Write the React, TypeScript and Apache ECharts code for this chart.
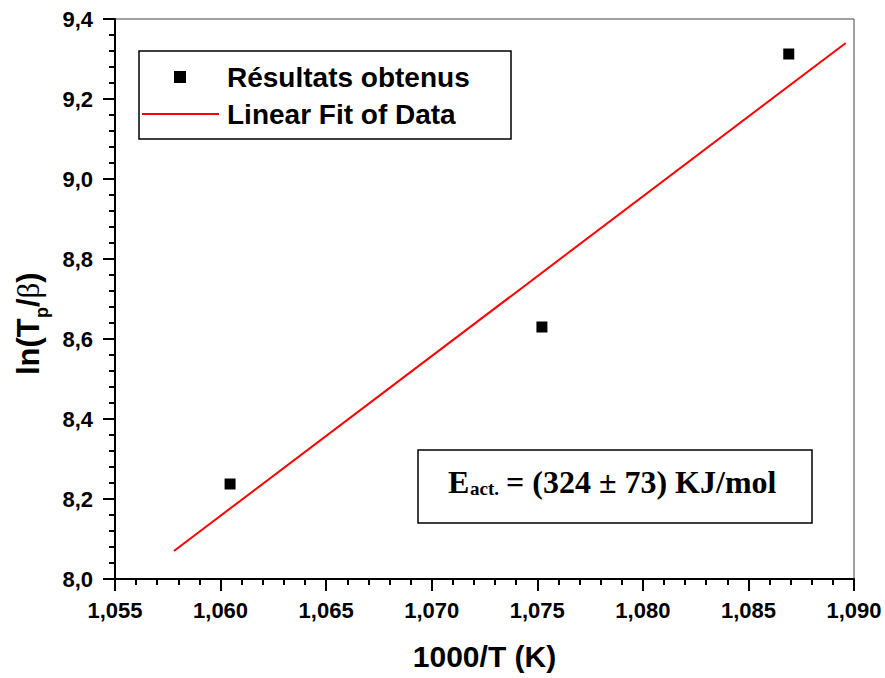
import React, { useEffect, useRef } from "react";
import * as echarts from "echarts";

const pointX = [1.06045, 1.07522, 1.08691];
const pointY = [8.2375, 8.63, 9.3125];
const fitX = [1.05779, 1.08961];
const fitY = [8.07, 9.34];
const xTicks = { min: 1.055, max: 1.09, interval: 0.005, minorInterval: 0.001 };
const yTicks = { min: 8.0, max: 9.4, interval: 0.2, minorInterval: 0.04 };
const seriesNames = ["Résultats obtenus", "Linear Fit of Data"];
const annotation = { main: "E", sub: "act.", rest: "= (324 ± 73) KJ/mol" };
const xTitle = "1000/T (K)";
const yTitle = { head: "ln(T", sub: "p", tail: "{a|/}{b|β}{a|)}" };

const W = 885;
const H = 678;
const GRID = { left: 115, right: 31, top: 19, bottom: 99 };
const sans = "'Liberation Sans', Arial, sans-serif";
const serif = "'Liberation Serif', 'Times New Roman', serif";

function axesOption() {
  return {
    animation: false,
    grid: { ...GRID, show: true, borderColor: "#444", borderWidth: 1, outerBoundsMode: "none" },
    xAxis: [
      {
        type: "value",
        min: xTicks.min,
        max: xTicks.max,
        interval: xTicks.interval,
        axisLine: { show: true, lineStyle: { color: "#000", width: 2 } },
        axisTick: { show: true, length: 12, lineStyle: { color: "#000", width: 2 } },
        splitLine: { show: false },
        name: xTitle,
        nameLocation: "middle",
        nameGap: 62,
        nameTextStyle: { fontFamily: sans, fontWeight: "bold", fontSize: 30, color: "#000" },
        axisLabel: {
          margin: 20,
          fontFamily: sans,
          fontWeight: "bold",
          fontSize: 22,
          color: "#000",
          formatter: (v: number) => v.toFixed(3).replace(".", ","),
        },
      },
      {
        type: "value",
        position: "bottom",
        min: xTicks.min,
        max: xTicks.max,
        interval: xTicks.minorInterval,
        axisLine: { show: false },
        axisTick: { show: true, length: 6, lineStyle: { color: "#000", width: 2 } },
        axisLabel: { show: false },
        splitLine: { show: false },
      },
    ],
    yAxis: [
      {
        type: "value",
        min: yTicks.min,
        max: yTicks.max,
        interval: yTicks.interval,
        axisLine: { show: true, lineStyle: { color: "#000", width: 2 } },
        axisTick: { show: true, length: 12, lineStyle: { color: "#000", width: 2 } },
        splitLine: { show: false },
        axisLabel: {
          margin: 22,
          fontFamily: sans,
          fontWeight: "bold",
          fontSize: 22,
          color: "#000",
          formatter: (v: number) => v.toFixed(1).replace(".", ","),
        },
      },
      {
        type: "value",
        position: "left",
        min: yTicks.min,
        max: yTicks.max,
        interval: yTicks.minorInterval,
        axisLine: { show: false },
        axisTick: { show: true, length: 6, lineStyle: { color: "#000", width: 2 } },
        axisLabel: { show: false },
        splitLine: { show: false },
      },
    ],
    series: [
      {
        name: seriesNames[0],
        type: "scatter",
        xAxisIndex: 0,
        yAxisIndex: 0,
        symbol: "rect",
        symbolSize: 11,
        itemStyle: { color: "#000", opacity: 1 },
        data: pointX.map((x, i) => [x, pointY[i]]),
      },
    ],
  };
}

function overlayOption() {
  const hiddenAxis = {
    type: "value",
    axisLine: { show: false },
    axisTick: { show: false },
    axisLabel: { show: false },
    splitLine: { show: false },
  };
  return {
    animation: false,
    backgroundColor: "transparent",
    grid: { ...GRID, show: false, outerBoundsMode: "none" },
    xAxis: { ...hiddenAxis, min: xTicks.min, max: xTicks.max, interval: xTicks.interval },
    yAxis: { ...hiddenAxis, min: yTicks.min, max: yTicks.max, interval: yTicks.interval },
    series: [
      {
        name: seriesNames[1],
        type: "line",
        symbol: "none",
        lineStyle: { color: "#ff0000", width: 2 },
        data: fitX.map((x, i) => [x, fitY[i]]),
      },
    ],
    graphic: [
      {
        type: "group",
        x: 28,
        y: 318,
        rotation: Math.PI / 2,
        children: [
          {
            type: "text",
            x: -57,
            y: 0,
            style: { text: yTitle.head, font: `bold 31px ${sans}`, fill: "#000", verticalAlign: "middle", align: "left" },
          },
          {
            type: "text",
            x: 0,
            y: 14,
            style: { text: yTitle.sub, font: `bold 18px ${sans}`, fill: "#000", verticalAlign: "middle", align: "left" },
          },
          {
            type: "text",
            x: 11,
            y: 0,
            style: {
              text: yTitle.tail,
              fill: "#000",
              verticalAlign: "middle",
              align: "left",
              rich: {
                a: { fontFamily: sans, fontWeight: "bold", fontSize: 31, fill: "#000" },
                b: { fontFamily: serif, fontWeight: "normal", fontSize: 31, fill: "#000" },
              },
            },
          },
        ],
      },
      {
        type: "rect",
        shape: { x: 139, y: 51, width: 372, height: 88 },
        style: { fill: "#fff", stroke: "#000", lineWidth: 1.5 },
        z: 10,
      },
      {
        type: "rect",
        shape: { x: 174, y: 71, width: 12, height: 12 },
        style: { fill: "#000" },
        z: 11,
      },
      {
        type: "line",
        shape: { x1: 142, y1: 114, x2: 219, y2: 114 },
        style: { stroke: "#ff0000", lineWidth: 2 },
        z: 11,
      },
      {
        type: "text",
        x: 227,
        y: 77,
        style: { text: seriesNames[0], font: `bold 28px ${sans}`, fill: "#000", verticalAlign: "middle" },
        z: 11,
      },
      {
        type: "text",
        x: 227,
        y: 114,
        style: { text: seriesNames[1], font: `bold 28px ${sans}`, fill: "#000", verticalAlign: "middle" },
        z: 11,
      },
      {
        type: "rect",
        shape: { x: 418, y: 450, width: 394, height: 73 },
        style: { fill: "#fff", stroke: "#000", lineWidth: 1.5 },
        z: 10,
      },
      {
        type: "text",
        x: 448,
        y: 482,
        style: { text: annotation.main, font: `bold 32px ${serif}`, fill: "#000", verticalAlign: "middle" },
        z: 11,
      },
      {
        type: "text",
        x: 470,
        y: 488,
        style: { text: annotation.sub, font: `bold 19px ${serif}`, fill: "#000", verticalAlign: "middle" },
        z: 11,
      },
      {
        type: "text",
        x: 506,
        y: 482,
        style: { text: annotation.rest, font: `bold 32px ${serif}`, fill: "#000", verticalAlign: "middle" },
        z: 11,
      },
    ],
  };
}

export default function App() {
  const axesRef = useRef<HTMLDivElement>(null);
  const overlayRef = useRef<HTMLDivElement>(null);
  useEffect(() => {
    if (!axesRef.current || !overlayRef.current) return;
    const base = echarts.init(axesRef.current, null, { renderer: "svg" });
    base.setOption(axesOption());
    const top = echarts.init(overlayRef.current, null, { renderer: "svg" });
    top.setOption(overlayOption());
    return () => {
      top.dispose();
      base.dispose();
    };
  }, []);
  const layer: React.CSSProperties = { position: "absolute", left: 0, top: 0, width: W, height: H };
  return (
    <div style={{ position: "fixed", left: 0, top: 0, width: W, height: H, background: "#fff" }}>
      <div ref={axesRef} style={layer} />
      <div ref={overlayRef} style={layer} />
    </div>
  );
}
